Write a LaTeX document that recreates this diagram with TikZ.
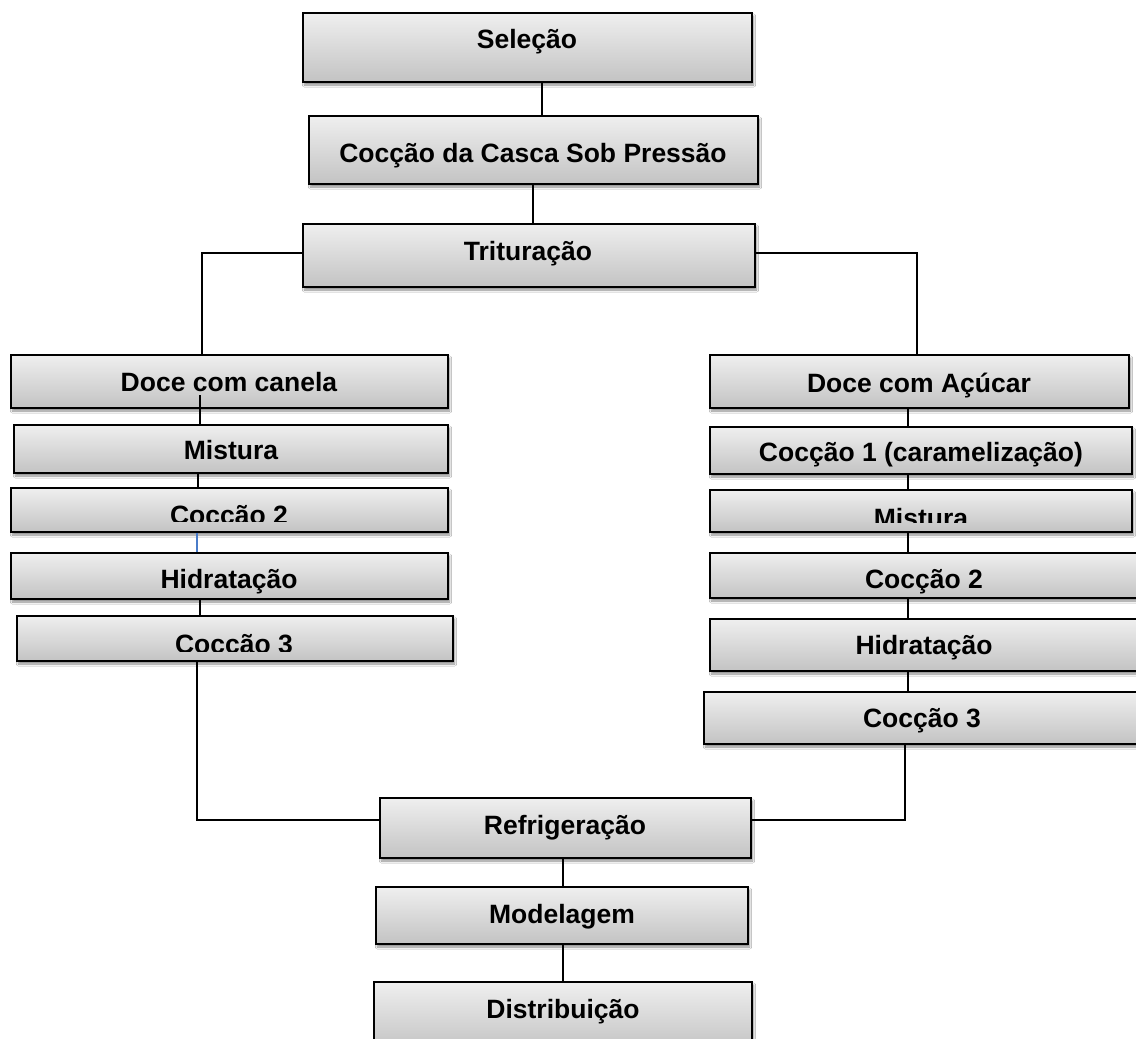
\documentclass[tikz,border=0pt]{standalone}
\usepackage{fontspec}
\setmainfont{Liberation Sans}
\usetikzlibrary{shadows.blur}
\definecolor{boxtop}{HTML}{EFEFEF}
\definecolor{boxbot}{HTML}{C3C3C3}
\definecolor{bluelink}{HTML}{4A7CC9}
\tikzset{
  stage/.style={draw=black, line width=1.5pt, rectangle, inner sep=0pt,
    top color=boxtop, bottom color=boxbot,
    blur shadow={shadow xshift=1.5pt, shadow yshift=-3pt, shadow blur steps=6, shadow opacity=45}},
  lbl/.style={anchor=base, inner sep=0pt, font=\fontsize{26.5}{30}\selectfont\bfseries},
  conn/.style={draw=black, line width=1.1pt},
}
\newcommand{\stagebox}[5]{\node[stage, minimum width=#4pt, minimum height=#5pt] (#1) at (#2,#3) {};}
\begin{document}
\begin{tikzpicture}[x=1pt,y=-1pt]
\clip (0,0) rectangle (1136,1039);
\fill[white] (0,0) rectangle (1136,1039);

% ---- boxes ----
\stagebox{sel}{527.5}{47.5}{449}{69}
\stagebox{coc}{533.5}{150}{449}{68}
\stagebox{tri}{529}{255.5}{452}{63}
\stagebox{dcc}{229.5}{381.5}{437}{53}
\stagebox{misL}{231}{449}{434}{48}
\stagebox{ctwoL}{229.5}{510}{437}{44}
\stagebox{hidL}{229.5}{576}{437}{46}
\stagebox{cthreeL}{235}{638.5}{436}{45}
\stagebox{dca}{919.5}{381.5}{419}{53}
\stagebox{coneR}{921}{450.5}{422}{47}
\stagebox{misR}{921}{511}{422}{42}
\stagebox{ctwoR}{925}{575.5}{430}{45}
\stagebox{hidR}{925}{645}{430}{52}
\stagebox{cthreeR}{922}{718}{436}{52}
\stagebox{ref}{565.5}{828}{371}{60}
\stagebox{mod}{562}{915.5}{372}{57}
\stagebox{dis}{563}{1016}{378}{68}

% ---- labels ----
\node[lbl] (sel-t) at (527,48) {Seleção};
\node[lbl] (coc-t) at (533,162) {Cocção da Casca Sob Pressão};
\node[lbl] (tri-t) at (528,260) {Trituração};
\node[lbl] (dcc-t) at (229,391) {Doce com canela};
\node[lbl] (misL-t) at (231,459) {Mistura};
\begin{scope}
  \clip (11,488) rectangle (448,521);
  \node[lbl] (ctwoL-t) at (229,524) {Coccão 2};
\end{scope}
\node[lbl] (hidL-t) at (229,588) {Hidratação};
\begin{scope}
  \clip (17,616) rectangle (453,651);
  \node[lbl] (cthreeL-t) at (234,653) {Coccão 3};
\end{scope}
\node[lbl] (dca-t) at (919,392) {Doce com Açúcar};
\node[lbl] (coneR-t) at (921,461) {Cocção 1 (caramelização)};
\begin{scope}
  \clip (710,490) rectangle (1132,522);
  \node[lbl] (misR-t) at (921,527) {Mistura};
\end{scope}
\node[lbl] (ctwoR-t) at (924,588) {Cocção 2};
\node[lbl] (hidR-t) at (924,654) {Hidratação};
\node[lbl] (cthreeR-t) at (922,727) {Cocção 3};
\node[lbl] (ref-t) at (565,834) {Refrigeração};
\node[lbl] (mod-t) at (562,923) {Modelagem};
\node[lbl] (dis-t) at (563,1018) {Distribuição};

% ---- connectors ----
\draw[conn] ([xshift=14.5pt]sel.south) -- ([xshift=8.5pt]coc.north);
\draw[conn] ([xshift=-0.5pt]coc.south) -- ([xshift=4pt]tri.north);
\draw[conn] ([yshift=2.5pt]tri.west) -| ([xshift=-27.5pt]dcc.north);
\draw[conn] ([yshift=2.5pt]tri.east) -| ([xshift=-2.5pt]dca.north);
% left column
\draw[conn] ([xshift=-29.5pt,yshift=-13.5pt]dcc.center) -- ([xshift=-31pt]misL.north);
\draw[conn] ([xshift=-33pt]misL.south) -- ([xshift=-31.5pt]ctwoL.north);
\draw[conn, draw=bluelink] ([xshift=-32.5pt]ctwoL.south) -- ([xshift=-32.5pt]hidL.north);
\draw[conn] ([xshift=-29.5pt]hidL.south) -- ([xshift=-35pt]cthreeL.north);
\draw[conn] ([xshift=-38pt]cthreeL.south) |- ([yshift=8pt]ref.west);
% right column
\draw[conn] ([xshift=-11.5pt]dca.south) -- ([xshift=-13pt]coneR.north);
\draw[conn] ([xshift=-13pt]coneR.south) -- ([xshift=-13pt]misR.north);
\draw[conn] ([xshift=-13pt]misR.south) -- ([xshift=-17pt]ctwoR.north);
\draw[conn] ([xshift=-17pt]ctwoR.south) -- ([xshift=-17pt]hidR.north);
\draw[conn] ([xshift=-17pt]hidR.south) -- ([xshift=-14pt]cthreeR.north);
\draw[conn] ([xshift=-17pt]cthreeR.south) |- ([yshift=8pt]ref.east);
% bottom
\draw[conn] ([xshift=-2.5pt]ref.south) -- ([xshift=1pt]mod.north);
\draw[conn] ([xshift=1pt]mod.south) -- (dis.north);
\end{tikzpicture}
\end{document}
